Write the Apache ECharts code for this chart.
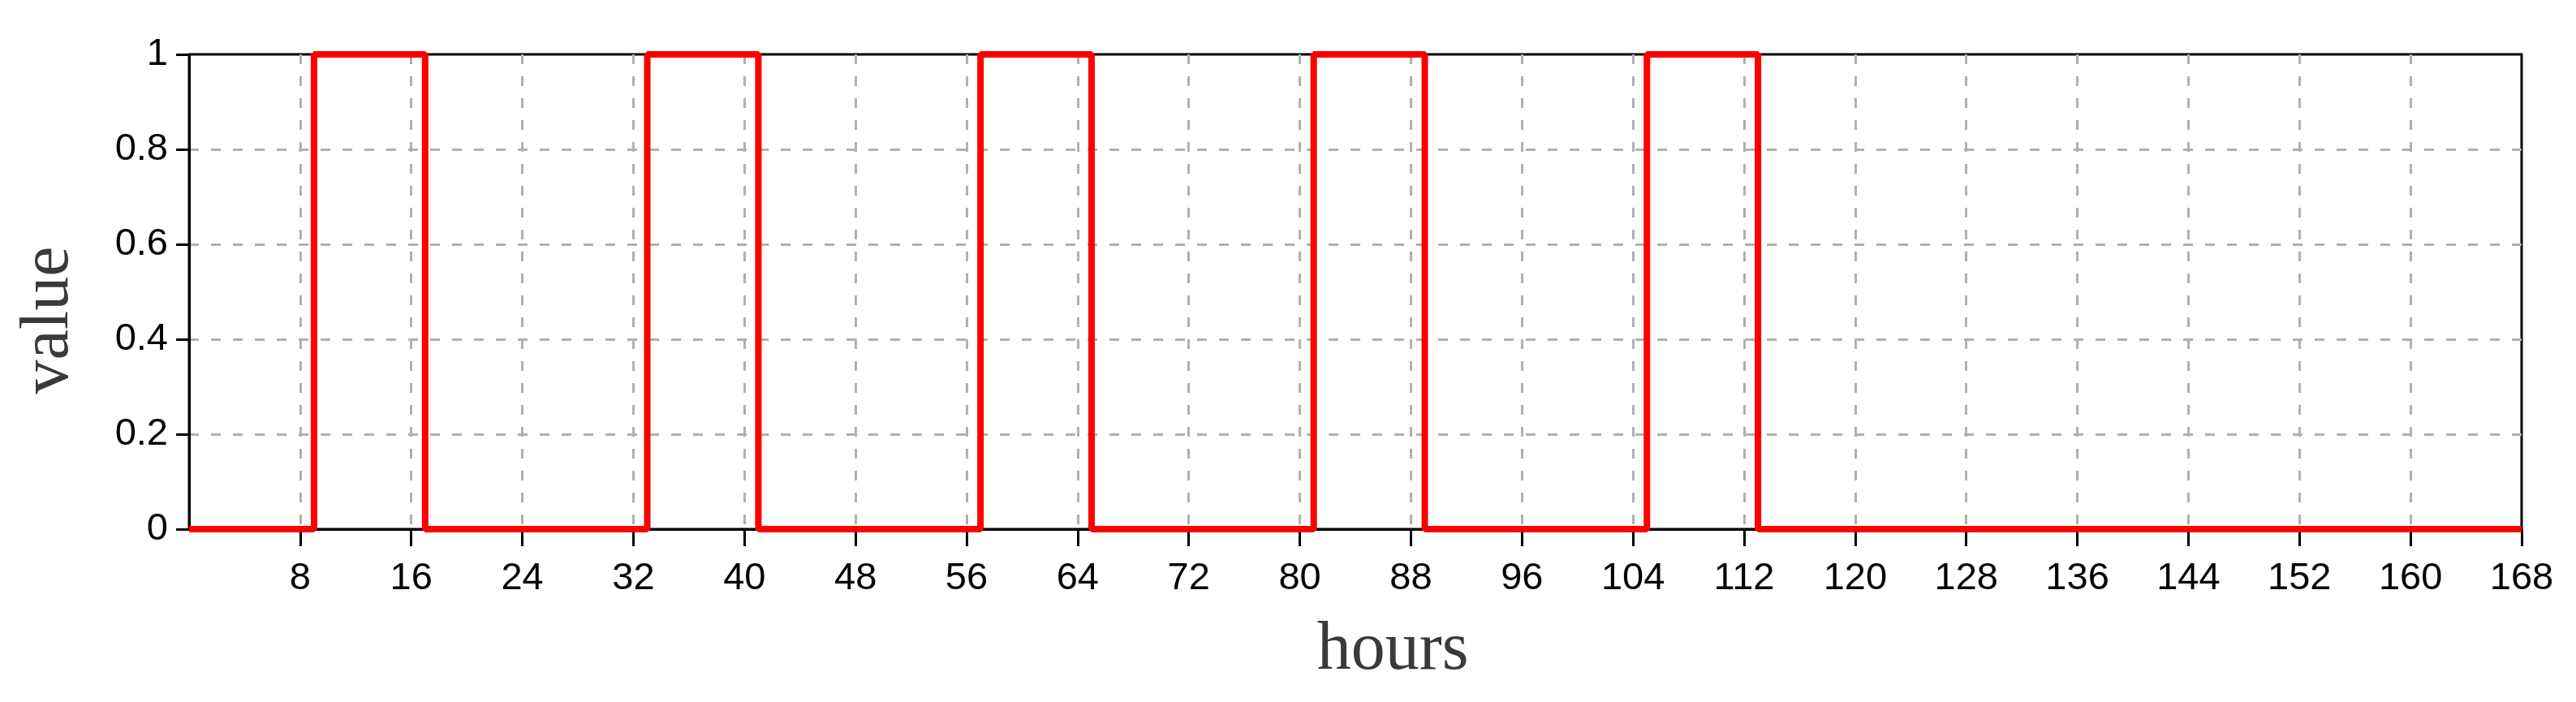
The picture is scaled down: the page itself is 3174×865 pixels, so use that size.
<!DOCTYPE html>
<html>
<head>
<meta charset="utf-8">
<script src="https://cdn.jsdelivr.net/npm/echarts@6/dist/echarts.min.js"></script>
<style>
  html, body { margin: 0; padding: 0; background: #fff; }
  #chart { width: 3174px; height: 865px; }
</style>
</head>
<body>
<div id="chart"></div>
<script>
// step points: value holds until the next hour, then jumps
const hours = [0, 9, 17, 33, 41, 57, 65, 81, 89, 105, 113, 168];
const values = [0, 1, 0, 1, 0, 1, 0, 1, 0, 1, 0, 0];
const xTicks = [0, 8, 16, 24, 32, 40, 48, 56, 64, 72, 80, 88, 96, 104, 112, 120, 128, 136, 144, 152, 160, 168];
const yTicks = [0, 0.2, 0.4, 0.6, 0.8, 1];

const chart = echarts.init(document.getElementById('chart'));

const gridLine = {
  show: true, showMinLine: false, showMaxLine: false,
  lineStyle: { color: '#b0b0b0', width: 3, type: [12, 15] }
};

chart.setOption({
  animation: false,
  backgroundColor: '#fff',
  grid: {
    left: 233, right: 67, top: 67, bottom: 213,
    show: true, borderColor: '#000', borderWidth: 3
  },
  xAxis: {
    type: 'value',
    min: xTicks[0],
    max: xTicks[xTicks.length - 1],
    interval: 8,
    name: 'hours',
    nameLocation: 'middle',
    nameGap: 108,
    nameTextStyle: { fontFamily: 'Liberation Serif', fontSize: 84, color: '#3a3a3a', padding: [0, 0, 0, 92] },
    axisLine: { show: true, onZero: false, lineStyle: { color: '#000', width: 3 } },
    axisTick: { show: true, length: 21, lineStyle: { color: '#000', width: 3 } },
    axisLabel: {
      showMinLabel: false,
      margin: 38,
      fontFamily: 'Liberation Sans', fontSize: 47, color: '#000'
    },
    splitLine: gridLine
  },
  yAxis: {
    type: 'value',
    min: yTicks[0],
    max: yTicks[yTicks.length - 1],
    interval: 0.2,
    name: 'value',
    nameLocation: 'middle',
    nameRotate: 90,
    nameGap: 130,
    nameTextStyle: { fontFamily: 'Liberation Serif', fontSize: 84, color: '#3a3a3a', padding: [0, 70, 0, 0] },
    axisLine: { show: true, lineStyle: { color: '#000', width: 3 } },
    axisTick: { show: true, length: 16, lineStyle: { color: '#000', width: 3 } },
    axisLabel: {
      margin: 26,
      fontFamily: 'Liberation Sans', fontSize: 47, color: '#000'
    },
    splitLine: gridLine
  },
  series: [{
    type: 'line',
    step: 'end',
    clip: false,
    symbol: 'none',
    data: hours.map((h, i) => [h, values[i]]),
    lineStyle: { color: '#ff0000', width: 8 },
    z: 5
  }]
});
</script>
</body>
</html>
